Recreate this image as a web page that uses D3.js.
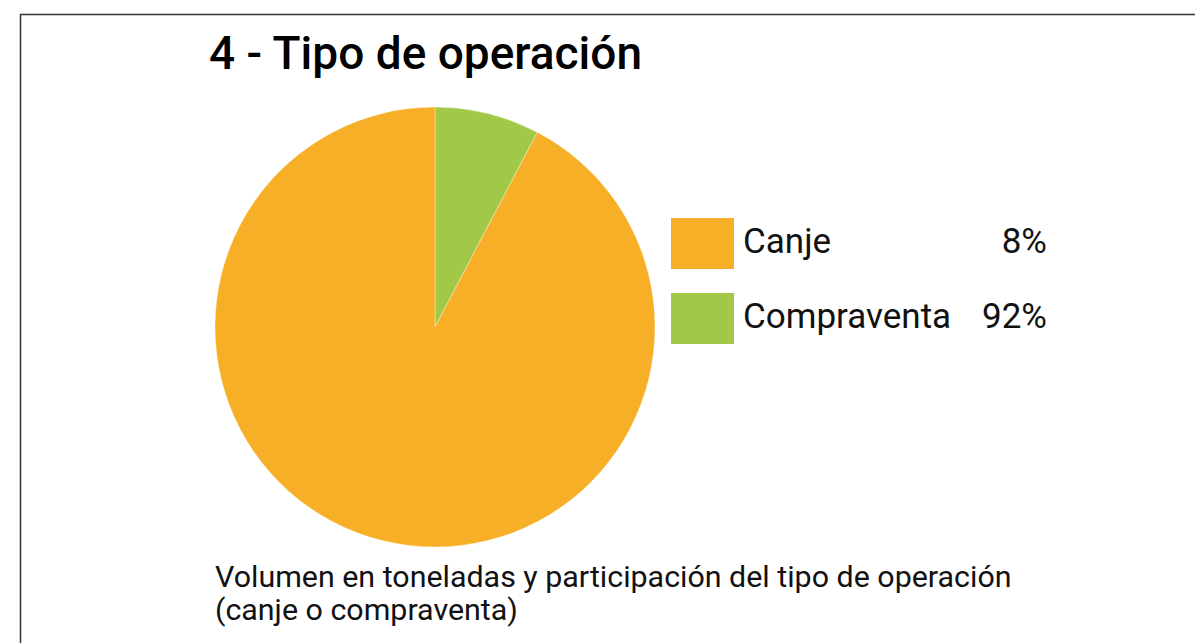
<!DOCTYPE html>
<html><head><meta charset="utf-8">
<script src="https://cdn.jsdelivr.net/npm/d3@7"></script>
<style>body{margin:0;background:#fff;}svg{display:block;font-family:Roboto,sans-serif;}</style>
</head><body>
<svg id="c" width="1195" height="643"></svg>
<script>
const categories = ["Canje", "Compraventa"];
const values = [7.7, 92.3];
const legendLabels = ["8%", "92%"];
const legendColors = ["#F6AF26", "#A1C846"];
const sliceColors = ["#A1C846", "#F6AF26"];
const title = "4 - Tipo de operación";
const subtitle = ["Volumen en toneladas y participación del tipo de operación", "(canje o compraventa)"];

const svg = d3.select("#c");
svg.append("rect").attr("x", 20.5).attr("y", 14.5).attr("width", 1300).attr("height", 800)
  .attr("fill", "#fff").attr("stroke", "#333").attr("stroke-width", 1.5);

svg.append("text").attr("x", 209).attr("y", 69).attr("font-size", 46).attr("font-weight", 500)
  .attr("fill", "#000").text(title);

const cx = 435, cy = 327, r = 220;
const pie = d3.pie().sort(null).value(d => d)(values);
const arc = d3.arc().innerRadius(0).outerRadius(r);
svg.append("g").attr("transform", `translate(${cx},${cy})`)
  .selectAll("path").data(pie).join("path")
  .attr("d", arc).attr("fill", (d, i) => sliceColors[i])
  .attr("stroke", "#fff").attr("stroke-width", 0.6).attr("stroke-opacity", 0.6);

const lg = svg.append("g");
const rows = lg.selectAll("g").data(categories).join("g")
  .attr("transform", (d, i) => `translate(671,${218 + i * 75})`);
rows.append("rect").attr("width", 63).attr("height", 51).attr("fill", (d, i) => legendColors[i]);
rows.append("text").attr("x", 72).attr("y", 35).attr("font-size", 35).attr("fill", "#111").text(d => d);
rows.append("text").attr("x", 376).attr("y", 35).attr("font-size", 35).attr("fill", "#111")
  .attr("text-anchor", "end").text((d, i) => legendLabels[i]);

svg.append("g").selectAll("text").data(subtitle).join("text")
  .attr("x", 215).attr("y", (d, i) => 587 + i * 33).attr("font-size", 30.4).attr("fill", "#111").text(d => d);
</script>
</body></html>
